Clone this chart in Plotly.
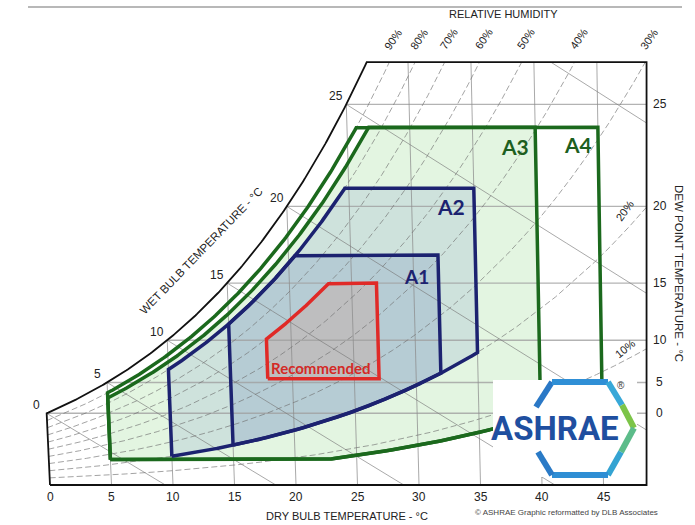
import numpy as np
import plotly.graph_objects as go

# ---------------- chart data ----------------
DB_TICKS = [0, 5, 10, 15, 20, 25, 30, 35, 40, 45]          # dry bulb labels, °C
DP_TICKS = [0, 5, 10, 15, 20, 25]                          # dew point labels, °C
WB_TICKS = [0, 5, 10, 15, 20, 25]                          # wet bulb labels, °C
WB_LINES = [0, 5, 10, 15, 20, 25, 30]                      # wet bulb grid lines
RH_LINES = [10, 20, 30, 40, 50, 60, 70, 80, 90]            # relative humidity grid, %
RH_TOP_LABELS = [90, 80, 70, 60, 50, 40, 30]
RH_SIDE_LABELS = [20, 10]
DB_GRID = [5, 10, 15, 20, 25, 30, 35, 40, 45]
DP_GRID = [0, 5, 10, 15, 20, 25]

ZONE_NAMES = ["A4", "A3", "A2", "A1", "Recommended"]
ZONE_DB_MIN = [5, 5, 10, 15, 18]
ZONE_DB_MAX = [45, 40, 35, 32, 27]
ZONE_DP_MIN = [-12, -12, None, None, 5.5]
ZONE_RH_MIN = [8, 8, 20, 20, None]
ZONE_DP_MAX = [24, 24, 21, 17, 15]
ZONE_RH_MAX = [90, 85, 80, 80, 60]

DB_MAX = 48.5     # right edge of the chart, °C
W_MAX = 22.26     # top edge of the chart, g/kg

# ---------------- styles ----------------
ZONE_FILL = ["rgba(255,255,255,0)", "#e3f5e1", "#cee2dc", "#b6ccd4", "#bebebf"]
ZONE_LINE = ["#1b691d", "#1b691d", "#1c2270", "#1c2270", "#e02a27"]
ZONE_TXT = ["#1d5f20", "#1d5f20", "#1c2270", "#1c2270", "#d42a26"]
ZONE_TXT_SIZE = [21, 21, 21, 19, 15]
ZONE_TXT_SHIFT = [(-20, -17), (-20, -19), (-23, -18), (-21, -21), (-2, 11)]
LAB_FONT = "Liberation Sans, Arial, sans-serif"
TICK_FONT = "Liberation Sans, Arial, sans-serif"
ZFONT = "Lato, Open Sans, sans-serif"

P_ATM = 101.325
SKEW = 0.013 / 12.3   # slight lean of the dry-bulb lines on the chart
T_REF = 68.0


def pws(t):
    t = np.asarray(t, dtype=float)
    return np.where(t >= 0,
                    0.61094 * np.exp(17.625 * t / (t + 243.04)),
                    0.61115 * np.exp(22.452 * t / (272.55 + t)))


def w_from_pv(pv):
    return 622.0 * pv / (P_ATM - pv)


def w_sat(t):
    return w_from_pv(pws(t))


def w_rh(t, rh):
    return w_from_pv(rh / 100.0 * pws(t))


def t_from_pws(p):
    a = np.log(p / 0.61094)
    return 243.04 * a / (17.625 - a)


def pv_from_w(w):
    return w * P_ATM / (622.0 + w)


def w_wb(t, twb):
    ws = w_sat(twb) / 1000.0
    return ((2501 - 2.326 * twb) * ws - 1.006 * (t - twb)) / (2501 + 1.86 * t - 4.186 * twb) * 1000.0


def proj(t, w):
    return np.asarray(t) - SKEW * (T_REF - np.asarray(t)) * np.asarray(w)


fig = go.Figure()


def add_line(x, y, color, width, dash="solid"):
    fig.add_trace(go.Scatter(x=list(x), y=list(y), mode="lines",
                             line=dict(color=color, width=width, dash=dash),
                             hoverinfo="skip", showlegend=False))


def zone_polygon(i):
    t0, t1 = ZONE_DB_MIN[i], ZONE_DB_MAX[i]
    pts = list(np.linspace(t0, t1, 300))
    w_hi_dp = w_from_pv(pws(ZONE_DP_MAX[i]))
    tc = float(t_from_pws(pws(ZONE_DP_MAX[i]) / (ZONE_RH_MAX[i] / 100.0)))
    if t0 < tc < t1:
        pts.append(tc)
    if ZONE_DP_MIN[i] is not None and ZONE_RH_MIN[i] is not None:
        tl = float(t_from_pws(pws(ZONE_DP_MIN[i]) / (ZONE_RH_MIN[i] / 100.0)))
        if t0 < tl < t1:
            pts.append(tl)
    t = np.array(sorted(pts))
    lo = np.zeros_like(t)
    if ZONE_DP_MIN[i] is not None:
        lo = np.maximum(lo, w_from_pv(pws(ZONE_DP_MIN[i])))
    if ZONE_RH_MIN[i] is not None:
        lo = np.maximum(lo, w_rh(t, ZONE_RH_MIN[i]))
    hi = np.minimum(w_hi_dp, w_rh(t, ZONE_RH_MAX[i]))
    tt = np.concatenate([t, t[::-1], t[:1]])
    ww = np.concatenate([lo, hi[::-1], lo[:1]])
    return proj(tt, ww), ww


# ---------- zone fills ----------
for i in range(len(ZONE_NAMES)):
    x, y = zone_polygon(i)
    fig.add_trace(go.Scatter(x=list(x), y=list(y), mode="lines", fill="toself",
                             fillcolor=ZONE_FILL[i], line=dict(width=0),
                             hoverinfo="skip", showlegend=False))

# ---------- grid ----------
t_top = float(t_from_pws(pv_from_w(W_MAX)))

for d in DP_GRID:
    w = float(w_sat(d))
    add_line([float(proj(d, w)), DB_MAX], [w, w], "rgba(160,160,160,0.8)", 1.4)

for t in DB_GRID:
    wt = min(float(w_sat(t)), W_MAX)
    add_line([float(proj(t, 0)), float(proj(t, wt))], [0, wt], "rgba(140,140,140,0.75)", 1)

tt = np.arange(0, 56, 0.02)
for rh in RH_LINES:
    w = w_rh(tt, rh)
    x = proj(tt, w)
    m = (w <= W_MAX) & (x <= DB_MAX)
    add_line(x[m], w[m], "rgba(110,110,110,0.8)", 0.8, dash="6px,3px")

for twb in WB_LINES:
    t = np.arange(twb, twb + 60, 0.02)
    w = w_wb(t, twb)
    x = proj(t, w)
    m = (w >= 0) & (w <= W_MAX) & (x <= DB_MAX)
    add_line(x[m], w[m], "rgba(120,120,120,0.8)", 0.8)

# ---------- zone borders ----------
for i in range(len(ZONE_NAMES)):
    x, y = zone_polygon(i)
    add_line(x, y, ZONE_LINE[i], 3.5)

# ---------- chart frame ----------
ts = np.linspace(0, t_top, 200)
wsat = w_sat(ts)
frame_x = [float(proj(0, 0)), DB_MAX, DB_MAX, float(proj(t_top, W_MAX))] + \
    list(proj(ts[::-1], wsat[::-1])) + [float(proj(0, 0))]
frame_y = [0, 0, W_MAX, W_MAX] + list(wsat[::-1]) + [0]
add_line(frame_x, frame_y, "#111111", 1.8)

ann = []
# dry bulb labels
for t in DB_TICKS:
    ann.append(dict(x=t, y=0, text=str(t), showarrow=False, yshift=-12,
                    xanchor="center", yanchor="middle",
                    font=dict(family=TICK_FONT, size=12, color="#222")))
# dew point labels
for d in DP_TICKS:
    ann.append(dict(x=DB_MAX, y=float(w_sat(d)), text=str(d), showarrow=False, xshift=13,
                    xanchor="center", yanchor="middle",
                    font=dict(family=TICK_FONT, size=12, color="#222")))
# wet bulb labels
for t in WB_TICKS:
    w = float(w_sat(t))
    ann.append(dict(x=float(proj(t, w)), y=w, text=str(t), showarrow=False, xshift=-10, yshift=8,
                    xanchor="center", yanchor="middle",
                    font=dict(family=TICK_FONT, size=12, color="#222")))
# RH labels at top
for rh in RH_TOP_LABELS:
    t = float(t_from_pws(pv_from_w(W_MAX) / (rh / 100.0)))
    ann.append(dict(x=float(proj(t, W_MAX)), y=W_MAX, text=f"{rh}%", showarrow=False,
                    xshift=4, yshift=23, textangle=-55, xanchor="center", yanchor="middle",
                    font=dict(family=TICK_FONT, size=11, color="#222")))
# RH labels on right edge
side_angle = {20: -54, 10: -39}
side_dy = {20: -4, 10: 0}
for rh in RH_SIDE_LABELS:
    t = np.arange(30, 56, 0.01)
    w = w_rh(t, rh)
    x = proj(t, w)
    k = int(np.argmin(np.abs(x - DB_MAX)))
    ann.append(dict(x=float(x[k]), y=float(w[k]), text=f"{rh}%", showarrow=False,
                    xshift=-22, yshift=side_dy[rh], textangle=side_angle[rh],
                    xanchor="center", yanchor="middle",
                    font=dict(family=TICK_FONT, size=11, color="#222")))
# zone labels
for i, name in enumerate(ZONE_NAMES):
    if name == "Recommended":
        tx = (ZONE_DB_MIN[i] + ZONE_DB_MAX[i]) / 2
        wy = float(w_sat(ZONE_DP_MIN[i]))
    else:
        tx = ZONE_DB_MAX[i]
        wy = min(float(w_sat(ZONE_DP_MAX[i])), float(w_rh(tx, ZONE_RH_MAX[i])))
    dx, dy = ZONE_TXT_SHIFT[i]
    ann.append(dict(x=float(proj(tx, wy)), y=wy, text=f"<b>{name}</b>", showarrow=False,
                    xshift=dx, yshift=dy, xanchor="center", yanchor="middle",
                    font=dict(family=ZFONT, size=ZONE_TXT_SIZE[i], color=ZONE_TXT[i])))


def P(xp, yp):
    return xp / 695.0, 1 - yp / 525.0


def paper_text(xp, yp, text, size, angle=0, color="#222", family=LAB_FONT):
    x, y = P(xp, yp)
    ann.append(dict(x=x, y=y, xref="paper", yref="paper", text=text, showarrow=False,
                    xanchor="center", yanchor="middle",
                    textangle=angle, font=dict(family=family, size=size, color=color)))


paper_text(503, 14, "RELATIVE HUMIDITY", 11)
paper_text(347, 516, "DRY BULB TEMPERATURE - °C", 11)
paper_text(201, 251, "WET BULB TEMPERATURE - °C", 11.5, angle=-46)
paper_text(679, 273, "DEW POINT TEMPERATURE - °C", 11.5, angle=90)
paper_text(566, 512, "© ASHRAE Graphic reformatted by DLB Associates", 8, color="#444")

# ---------- ASHRAE logo ----------
shapes = []
x0, y0 = P(493, 380)
x1, y1 = P(637, 477)
shapes.append(dict(type="rect", xref="paper", yref="paper", x0=x0, y0=y1, x1=x1, y1=y0,
                   fillcolor="white", line=dict(width=0), layer="above"))
hexsegs = [((536, 407), (552, 382), "#2a78c6"),
           ((552, 382), (608, 382), "#2f8fd6"),
           ((608, 382), (622, 405), "#38a8d8"),
           ((622, 405), (634, 428), "#7cc448"),
           ((634, 428), (621, 452), "#5cbc8a"),
           ((621, 452), (608, 475), "#34a3d2"),
           ((608, 475), (552, 475), "#2f8ed4"),
           ((552, 475), (538, 452), "#2a7ac6")]
for (a, b, c) in hexsegs:
    ax, ay = P(*a)
    bx, by = P(*b)
    shapes.append(dict(type="line", xref="paper", yref="paper", x0=ax, y0=ay, x1=bx, y1=by,
                       line=dict(color=c, width=6), layer="above"))
# separator line at the very top
lx0, ly = P(28, 7)
lx1, _ = P(682, 7)
shapes.append(dict(type="line", xref="paper", yref="paper", x0=lx0, y0=ly, x1=lx1, y1=ly,
                   line=dict(color="#a0a0a0", width=1.5)))

paper_text(555, 428, "<b>ASHRAE</b>", 33, color="#1f4fa0", family="Roboto, sans-serif")
paper_text(621, 385, "®", 10, color="#333")

fig.update_layout(
    width=695, height=525, autosize=False,
    margin=dict(l=0, r=0, t=0, b=0, pad=0),
    paper_bgcolor="white", plot_bgcolor="white",
    showlegend=False,
    xaxis=dict(range=[-50 / 12.3, 645 / 12.3], visible=False, fixedrange=True),
    yaxis=dict(range=[-40 / 19.0, 485 / 19.0], visible=False, fixedrange=True),
    annotations=ann, shapes=shapes,
)

fig.write_html("out.html", config={"displayModeBar": False},
               post_script="document.body.style.margin='0px';")
